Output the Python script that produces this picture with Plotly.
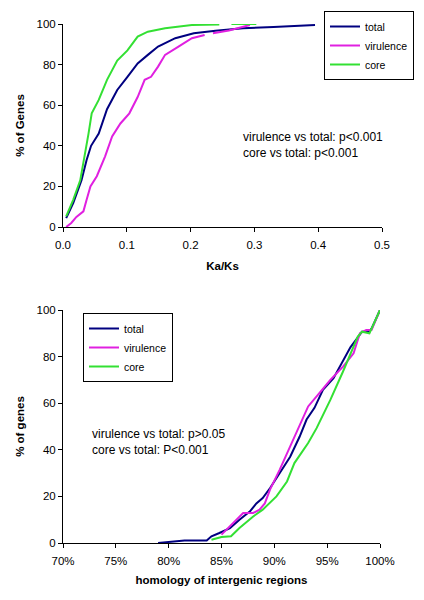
import plotly.graph_objects as go

# ---- top chart: Ka/Ks cumulative distributions ----
kaks_total_x = [0.005, 0.016, 0.029, 0.037, 0.044, 0.056, 0.069, 0.085, 0.101, 0.117, 0.133, 0.149,
                0.176, 0.205, 0.239, 0.282, 0.33, 0.36, 0.395]
kaks_total_y = [4.4, 11.8, 23, 33, 40, 46, 58, 67.5, 74, 80.6, 84.8, 88.9,
                93, 95.4, 96.7, 97.9, 98.5, 99.0, 99.5]

kaks_vir_x = [0.005, 0.013, 0.021, 0.032, 0.037, 0.043, 0.053, 0.066, 0.077, 0.090, 0.104, 0.117,
              0.128, 0.138, 0.149, 0.160, 0.181, 0.202, 0.222, 0.232, 0.235, 0.26, 0.293]
kaks_vir_y = [0, 2, 5, 7.7, 13.4, 20, 25, 34.8, 44.6, 51, 56, 64,
              72.5, 74, 79, 84.8, 88.9, 93, 94.6, None, 95.4, 96.8, 99.5]

kaks_core_x = [0.005, 0.016, 0.027, 0.035, 0.040, 0.045, 0.056, 0.069, 0.085, 0.101, 0.117, 0.133,
               0.160, 0.202, 0.245, 0.255, 0.264, 0.303]
kaks_core_y = [5.2, 13.4, 23, 36, 46, 56, 62.6, 72.5, 82, 87, 93.8, 96.2,
               97.9, 99.5, 99.8, None, 100, 100]

# ---- bottom chart: homology of intergenic regions (%) ----
hom_total_x = [79.0, 80.4, 81.5, 83.6, 84.05, 84.8, 85.8, 86.7, 87.7, 88.3, 88.9, 89.6, 90.5, 91.5,
               92.4, 93.05, 93.8, 94.6, 95.6, 96.5, 97.2, 98.3, 98.9, 99.2, 100]
hom_total_y = [0, 0.6, 1.1, 1.1, 2.9, 4.3, 6.4, 10, 13.6, 17, 19.3, 23.6, 30, 37,
               45.7, 53, 58, 65.7, 70.7, 78, 84, 90.7, 90.7, 92, 100]

hom_vir_x = [85.0, 86.1, 87.05, 88.0, 88.6, 89.1, 89.6, 90.5, 91.5, 92.4, 93.2, 94.2, 95.3,
             96.5, 97.5, 98.1, 98.7, 99.2, 100]
hom_vir_y = [3.6, 8.6, 12.9, 12.9, 14.3, 17, 23, 31.4, 41.4, 50, 58.6, 64, 70,
             75.7, 81.4, 90, 91.4, 91.4, 100]

hom_core_x = [84.05, 85.0, 85.9, 86.7, 88.0, 88.9, 90.2, 91.2, 91.9, 93.2, 94.0, 95.3, 96.5,
              97.9, 98.3, 99.0, 100]
hom_core_y = [1.4, 2.6, 2.9, 6.4, 11.4, 14.3, 20, 26.4, 34.3, 42.9, 49.3, 61.4, 73.6,
              88.6, 90.7, 90, 100]

series_names = ["total", "virulence", "core"]
colors = ["#000080", "#E020E0", "#33E033"]

top_x = [kaks_total_x, kaks_vir_x, kaks_core_x]
top_y = [kaks_total_y, kaks_vir_y, kaks_core_y]
bot_x = [hom_total_x, hom_vir_x, hom_core_x]
bot_y = [hom_total_y, hom_vir_y, hom_core_y]

FONT = "Liberation Sans, Arial, sans-serif"

fig = go.Figure()
for name, c, xs, ys in zip(series_names, colors, top_x, top_y):
    fig.add_trace(go.Scatter(x=xs, y=ys, mode="lines", name=name, connectgaps=False,
                             line=dict(color=c, width=2), xaxis="x", yaxis="y", legend="legend"))
for name, c, xs, ys in zip(series_names, colors, bot_x, bot_y):
    fig.add_trace(go.Scatter(x=xs, y=ys, mode="lines", name=name,
                             line=dict(color=c, width=2), xaxis="x2", yaxis="y2", legend="legend2"))

# page has an 8px body margin; work in page pixel coordinates
OFF = 8
W, H = 424 - 2 * OFF, 600 - 2 * OFF
def px(x):
    return (x - OFF) / W
def py(y):
    return 1 - (y - OFF) / H

axis_common = dict(showgrid=False, zeroline=False, showline=True, linecolor="black", linewidth=1,
                   ticks="outside", ticklen=4, tickcolor="black", automargin=False,
                   tickfont=dict(family=FONT, size=11.5, color="black"))

legend_common = dict(bordercolor="black", borderwidth=1, bgcolor="white",
                     font=dict(family=FONT, size=10.5, color="black"),
                     xanchor="left", yanchor="top", tracegroupgap=0, itemwidth=30)

fig.update_layout(
    width=W, height=H, margin=dict(l=0, r=0, t=0, b=0, autoexpand=False),
    paper_bgcolor="white", plot_bgcolor="white",
    font=dict(family=FONT, color="black"),
    xaxis=dict(domain=[px(63), px(382)], range=[0, 0.5], dtick=0.1, tickformat=".1f",
               anchor="y", ticklabelstandoff=3,
               title=dict(text="<b>Ka/Ks</b>", font=dict(family=FONT, size=11.5), standoff=12),
               **axis_common),
    yaxis=dict(domain=[py(227), py(24)], range=[0, 100], dtick=20, anchor="x",
               title=dict(text="<b>% of Genes</b>", font=dict(family=FONT, size=11.5), standoff=9),
               **axis_common),
    xaxis2=dict(domain=[px(63), px(380)], range=[70, 100], dtick=5, ticksuffix="%",
                anchor="y2", ticklabelstandoff=3,
                title=dict(text="<b>homology of intergenic regions</b>", font=dict(family=FONT, size=11.5), standoff=10),
                **axis_common),
    yaxis2=dict(domain=[py(543), py(310)], range=[0, 100], dtick=20, anchor="x2",
                title=dict(text="<b>% of genes</b>", font=dict(family=FONT, size=11.5), standoff=9),
                **axis_common),
    legend=dict(x=px(324), y=py(11), **legend_common),
    legend2=dict(x=px(83), y=py(313), **legend_common),
    showlegend=True,
)

fig.add_annotation(x=px(241), y=py(145), xref="paper", yref="paper", xanchor="left", yanchor="middle",
                   text="virulence vs total: p<0.001<br>core vs total: p<0.001", showarrow=False,
                   align="left", font=dict(family=FONT, size=12, color="black"))
fig.add_annotation(x=px(90), y=py(442), xref="paper", yref="paper", xanchor="left", yanchor="middle",
                   text="virulence vs total: p>0.05<br>core vs total: P<0.001", showarrow=False,
                   align="left", font=dict(family=FONT, size=12, color="black"))

fig.write_html("out.html")
